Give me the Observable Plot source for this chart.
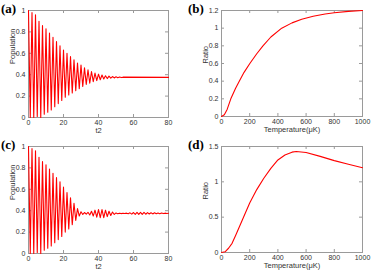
<!DOCTYPE html>
<html>
<head>
<meta charset="utf-8">
<script src="https://cdn.jsdelivr.net/npm/d3@7"></script>
<script src="https://cdn.jsdelivr.net/npm/@observablehq/plot@0.6"></script>
<style>
  html, body { margin: 0; padding: 0; background: #fff; }
  #wrap { position: relative; width: 382px; height: 272px; overflow: hidden; }
  .panel { position: absolute; }
  .tag { position: absolute; font-family: "Liberation Serif", "Times New Roman", serif; font-weight: bold; font-size: 13px; line-height: 13px; color: #000; }
</style>
</head>
<body>
<div id="wrap"></div>
<script>
// ---- data ----
const tA = [0,1,2,3,4,5,6,7,8,9,10,11,12,13,14,15,16,17,18,19,20,21,22,23,24,25,26,27,28,29,30,31,32,33,34,35,36,37,38,39,40,41,42,43,44,45,46,47,48,49,50,51,52,53,54,80];
const popA = [1.0,0.0,0.98,0.0,0.96,0.01,0.9,0.0,0.86,0.03,0.83,0.05,0.79,0.07,0.75,0.1,0.71,0.13,0.67,0.16,0.63,0.19,0.6,0.21,0.57,0.23,0.54,0.25,0.51,0.27,0.49,0.29,0.465,0.31,0.445,0.32,0.43,0.335,0.415,0.345,0.405,0.353,0.397,0.36,0.39,0.364,0.386,0.367,0.383,0.37,0.38,0.372,0.378,0.373,0.377,0.375];

const tC = [0,1,2,3,4,5,6,7,8,9,10,11,12,13,14,15,16,17,18,19,20,21,22,23,24,25,26,27,28,29,30,31,32,33,34,35,36,37,38,39,40,41,42,43,44,45,46,47,48,49,50,51,52,53,54,55,56,57,58,59,60,61,62,63,64,65,66,67,68,69,70,71,72,73,74,75,76,77,78,79,80];
const popC = [1.0,0.0,0.98,0.0,0.96,0.01,0.9,0.0,0.86,0.03,0.83,0.05,0.79,0.07,0.75,0.1,0.71,0.13,0.67,0.16,0.62,0.2,0.57,0.23,0.52,0.27,0.47,0.31,0.42,0.35,0.39,0.365,0.383,0.368,0.385,0.36,0.395,0.35,0.405,0.34,0.41,0.335,0.41,0.335,0.405,0.345,0.395,0.355,0.388,0.365,0.379,0.372,0.377,0.373,0.376,0.374,0.377,0.372,0.38,0.368,0.383,0.366,0.385,0.365,0.385,0.366,0.384,0.367,0.382,0.369,0.381,0.37,0.38,0.371,0.379,0.372,0.378,0.373,0.377,0.374,0.376];

const tempB = [0,20,40,66,100,126,160,201,250,294,350,427,500,569,650,735,800,900,1000];
const ratioB = [0,0.02,0.08,0.2,0.32,0.4,0.5,0.6,0.71,0.8,0.9,1.0,1.06,1.1,1.135,1.16,1.175,1.19,1.2];

const tempD = [0,25,50,75,100,150,200,250,300,350,400,450,500,530,600,700,800,900,1000];
const ratioD = [0,0.01,0.06,0.13,0.24,0.47,0.7,0.89,1.05,1.19,1.31,1.38,1.42,1.43,1.415,1.36,1.3,1.25,1.2];

const ticksT = [0,20,40,60,80];
const ticksPop = [0,0.2,0.4,0.6,0.8,1];
const ticksTemp = [0,200,400,600,800,1000];
const ticksRatioB = [0,0.2,0.4,0.6,0.8,1,1.2];
const ticksRatioD = [0,0.5,1,1.5];
const tags = ["(a)","(b)","(c)","(d)"];

const FONT = "'Liberation Sans', Arial, sans-serif";
const GRID = "#9a9a9a";
const fmt = d => String(d);

function panel({xs, ys, xDomain, yDomain, xTicks, yTicks, xLabel, yLabel, ml, mr, mt, mb}) {
  const W = 191, H = 136;
  const iw = W - ml - mr, ih = H - mt - mb;
  const data = xs.map((x, i) => ({x, y: ys[i]}));
  return Plot.plot({
    width: W, height: H,
    marginLeft: ml, marginRight: mr, marginTop: mt, marginBottom: mb,
    style: {fontFamily: FONT, fontSize: "7px", color: "#333", background: "white", overflow: "visible"},
    x: {domain: xDomain},
    y: {domain: yDomain},
    marks: [
      Plot.frame({stroke: GRID}),
      Plot.tickX(xTicks, {x: d => d, insetTop: ih - 3, stroke: GRID}),
      Plot.tickX(xTicks, {x: d => d, insetBottom: ih - 3, stroke: GRID}),
      Plot.tickY(yTicks, {y: d => d, insetRight: iw - 3, stroke: GRID}),
      Plot.tickY(yTicks, {y: d => d, insetLeft: iw - 3, stroke: GRID}),
      Plot.axisX({ticks: xTicks, tickFormat: fmt, tickSize: 0, tickPadding: 3, label: null, fontSize: 7}),
      Plot.axisY({ticks: yTicks, tickFormat: fmt, tickSize: 0, tickPadding: 3, label: null, fontSize: 7}),
      Plot.text([xLabel], {frameAnchor: "bottom", dy: 15, fontSize: 7.5, fill: "#333"}),
      Plot.text([yLabel], {frameAnchor: "left", rotate: -90, dx: -16, fontSize: 7.5, fill: "#333"}),
      Plot.line(data, {x: "x", y: "y", stroke: "#ff0000", strokeWidth: 1.1})
    ]
  });
}

const wrap = document.getElementById("wrap");
const specs = [
  {left: 0, top: 0, xs: tA, ys: popA, xDomain: [0, 80], yDomain: [0, 1], xTicks: ticksT, yTicks: ticksPop, xLabel: "t2", yLabel: "Population", ml: 28, mr: 23, mt: 10, mb: 19},
  {left: 191, top: 0, xs: tempB, ys: ratioB, xDomain: [0, 1000], yDomain: [0, 1.2], xTicks: ticksTemp, yTicks: ticksRatioB, xLabel: "Temperature(μK)", yLabel: "Ratio", ml: 30, mr: 20, mt: 10, mb: 20},
  {left: 0, top: 136, xs: tC, ys: popC, xDomain: [0, 80], yDomain: [0, 1], xTicks: ticksT, yTicks: ticksPop, xLabel: "t2", yLabel: "Population", ml: 28, mr: 23, mt: 10, mb: 19},
  {left: 191, top: 136, xs: tempD, ys: ratioD, xDomain: [0, 1000], yDomain: [0, 1.5], xTicks: ticksTemp, yTicks: ticksRatioD, xLabel: "Temperature(μK)", yLabel: "Ratio", ml: 30, mr: 20, mt: 10, mb: 20}
];
const tagPos = [[1, 2], [188, 2], [1, 138], [188, 138]];
specs.forEach((s, i) => {
  const div = document.createElement("div");
  div.className = "panel";
  div.style.left = s.left + "px";
  div.style.top = s.top + "px";
  div.appendChild(panel(s));
  wrap.appendChild(div);
});
tags.forEach((t, i) => {
  const d = document.createElement("div");
  d.className = "tag";
  d.style.left = tagPos[i][0] + "px";
  d.style.top = tagPos[i][1] + "px";
  d.textContent = t;
  wrap.appendChild(d);
});
</script>
</body>
</html>
